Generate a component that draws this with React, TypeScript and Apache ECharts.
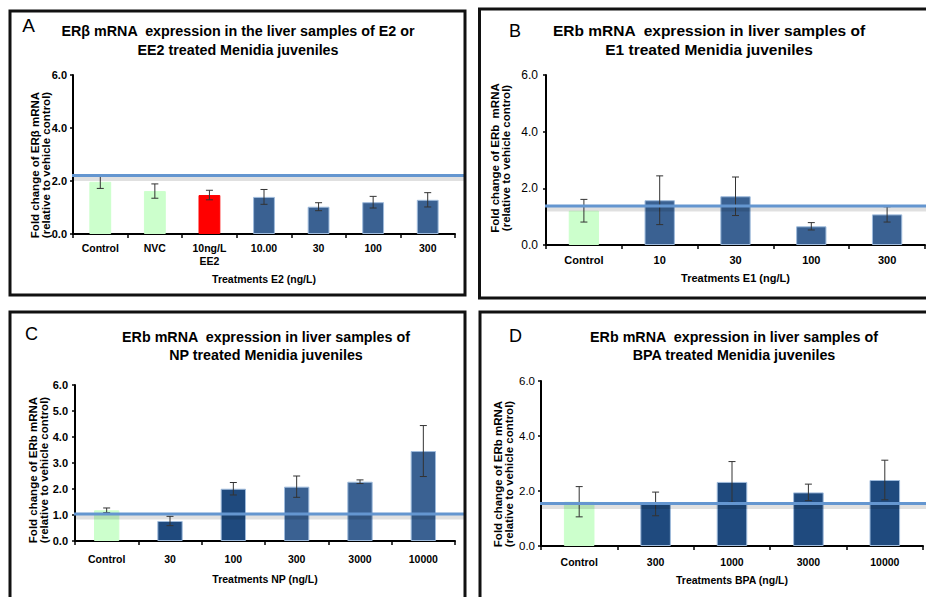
import React, { useEffect, useRef } from 'react';
import * as echarts from 'echarts';

const FONT = '"Liberation Sans", Arial, Helvetica, sans-serif';

// ---- Data ----
const categoriesA = ['Control', 'NVC', '10ng/L\nEE2', '10.00', '30', '100', '300'];
const valuesA = [1.97, 1.62, 1.47, 1.40, 1.03, 1.20, 1.29];
const errorsA = [0.25, 0.27, 0.18, 0.28, 0.15, 0.22, 0.27];
const referenceA = 2.21;

const categoriesB = ['Control', '10', '30', '100', '300'];
const valuesB = [1.21, 1.58, 1.72, 0.66, 1.08];
const errorsB = [0.40, 0.86, 0.68, 0.13, 0.27];
const referenceB = 1.38;

const categoriesC = ['Control', '30', '100', '300', '3000', '10000'];
const valuesC = [1.18, 0.77, 2.01, 2.09, 2.28, 3.46];
const errorsC = [0.09, 0.18, 0.24, 0.41, 0.07, 0.98];
const referenceC = 1.04;

const categoriesD = ['Control', '300', '1000', '3000', '10000'];
const valuesD = [1.61, 1.53, 2.33, 1.95, 2.40];
const errorsD = [0.55, 0.43, 0.74, 0.30, 0.72];
const referenceD = 1.55;

// ---- Styles ----
const GREEN = '#ccffcc';
const RED = '#ff0000';
const BLUE = '#3a6192';
const DARK = '#1f4a7e';
const barColorsA = [GREEN, GREEN, RED, BLUE, BLUE, BLUE, BLUE];
const barColorsB = [GREEN, BLUE, BLUE, BLUE, BLUE];
const barColorsC = [GREEN, DARK, DARK, BLUE, BLUE, BLUE];
const barColorsD = [GREEN, DARK, DARK, DARK, DARK];

const panels = [
  {
    letter: 'A', letterPos: [28.5, 25], letterSize: 19,
    title: ['ERβ mRNA  expression in the liver samples of E2 or', 'EE2 treated Menidia juveniles'],
    titleX: 238, titleY: [31, 50], titleSize: 14.3,
    cats: categoriesA, vals: valuesA, errs: errorsA, ref: referenceA, colors: barColorsA,
    xName: 'Treatments E2 (ng/L)', yName: ['Fold change of ERβ mRNA', '(relative to vehicle control)'],
    yNameX: [35, 46], yNameY: 165, yNameSize: 11.5,
    grid: { left: 73, top: 75, width: 382, height: 159 },
    frame: { x: 10, y: 11, width: 455, height: 284 },
    interval: 2, tickBold: true, tickSize: 11, tickMargin: 6,
    catSize: 10.5, catMargin: 8, nameGap: 39, nameSize: 10.5, lineEnd: 466,
  },
  {
    letter: 'B', letterPos: [515, 31], letterSize: 18,
    title: ['ERb mRNA  expression in liver samples of', 'E1 treated Menidia juveniles'],
    titleX: 709, titleY: [30, 49], titleSize: 15.5,
    cats: categoriesB, vals: valuesB, errs: errorsB, ref: referenceB, colors: barColorsB,
    xName: 'Treatments E1 (ng/L)', yName: ['Fold change of ERb  mRNA', '(relative to vehicle control)'],
    yNameX: [495, 506], yNameY: 158, yNameSize: 11.5,
    grid: { left: 546, top: 75, width: 379, height: 170 },
    frame: { x: 479.5, y: 9, width: 460, height: 289 },
    interval: 2, tickBold: false, tickSize: 12, tickMargin: 8,
    catSize: 11, catMargin: 8, nameGap: 27, nameSize: 11, lineEnd: 926,
  },
  {
    letter: 'C', letterPos: [31.5, 334], letterSize: 18,
    title: ['ERb mRNA  expression in liver samples of', 'NP treated Menidia juveniles'],
    titleX: 266, titleY: [337, 355], titleSize: 14.3,
    cats: categoriesC, vals: valuesC, errs: errorsC, ref: referenceC, colors: barColorsC,
    xName: 'Treatments NP (ng/L)', yName: ['Fold change of ERb mRNA', '(relative to vehicle control)'],
    yNameX: [33, 44], yNameY: 470, yNameSize: 11.5,
    grid: { left: 75, top: 385, width: 380, height: 156 },
    frame: { x: 10, y: 312, width: 455, height: 300 },
    interval: 1, tickBold: true, tickSize: 11, tickMargin: 7,
    catSize: 10.5, catMargin: 12, nameGap: 32, nameSize: 10.5, lineEnd: 466,
  },
  {
    letter: 'D', letterPos: [515.5, 336], letterSize: 18,
    title: ['ERb mRNA  expression in liver samples of', 'BPA treated Menidia juveniles'],
    titleX: 734, titleY: [337, 355], titleSize: 14.3,
    cats: categoriesD, vals: valuesD, errs: errorsD, ref: referenceD, colors: barColorsD,
    xName: 'Treatments BPA (ng/L)', yName: ['Fold change of ERb mRNA', '(relative to vehicle control)'],
    yNameX: [498, 509], yNameY: 474, yNameSize: 11.5,
    grid: { left: 541, top: 381, width: 382, height: 165 },
    frame: { x: 480, y: 312, width: 460, height: 300 },
    interval: 2, tickBold: false, tickSize: 11.5, tickMargin: 6,
    catSize: 10.5, catMargin: 10, nameGap: 28, nameSize: 10.5, lineEnd: 926,
  },
];

function errorRender(params: any, api: any) {
  const x = api.value(0);
  const y = api.value(1);
  const e = api.value(2);
  const top = api.coord([x, y + e]);
  const bot = api.coord([x, y - e]);
  const half = 3.5;
  const style = { stroke: '#333333', lineWidth: 1 };
  return {
    type: 'group',
    children: [
      { type: 'line', shape: { x1: top[0], y1: top[1], x2: bot[0], y2: bot[1] }, style },
      { type: 'line', shape: { x1: top[0] - half, y1: top[1], x2: top[0] + half, y2: top[1] }, style },
      { type: 'line', shape: { x1: bot[0] - half, y1: bot[1], x2: bot[0] + half, y2: bot[1] }, style },
    ],
  };
}

export default function App() {
  const ref = useRef<HTMLDivElement>(null);

  useEffect(() => {
    if (!ref.current) return;
    const chart = echarts.init(ref.current, null, { renderer: 'svg' });

    const grids = panels.map((p) => ({ ...p.grid, containLabel: false }));
    const xAxes = panels.map((p, i) => ({
      type: 'category',
      gridIndex: i,
      data: p.cats,
      axisLine: { lineStyle: { color: '#000', width: 2 } },
      axisTick: { show: true, length: 4, lineStyle: { color: '#000', width: 1.5 } },
      axisLabel: {
        color: '#000', fontFamily: FONT, fontWeight: 'bold', fontSize: p.catSize,
        margin: p.catMargin, interval: 0, lineHeight: p.catSize + 2,
      },
      name: p.xName,
      nameLocation: 'middle',
      nameGap: p.nameGap,
      nameTextStyle: { color: '#000', fontFamily: FONT, fontWeight: 'bold', fontSize: p.nameSize },
    }));
    const yAxes = panels.map((p, i) => ({
      type: 'value',
      gridIndex: i,
      min: 0,
      max: 6,
      interval: p.interval,
      axisLine: { show: true, lineStyle: { color: '#000', width: 2 } },
      axisTick: { show: true, length: 3, lineStyle: { color: '#000', width: 1.5 } },
      splitLine: { show: false },
      axisLabel: {
        color: '#000', fontFamily: FONT, fontWeight: p.tickBold ? 'bold' : 'normal',
        fontSize: p.tickSize, margin: p.tickMargin,
        formatter: (v: number) => v.toFixed(1),
      },
    }));
    const series: any[] = [];
    panels.forEach((p, i) => {
      series.push({
        type: 'bar',
        xAxisIndex: i,
        yAxisIndex: i,
        barWidth: '40%',
        data: p.vals.map((v, j) => ({
          value: v,
          itemStyle: {
            color: p.colors[j],
            borderColor: p.colors[j] === GREEN || p.colors[j] === RED ? p.colors[j] : '#9fbbdc',
            borderWidth: 1,
          },
        })),
        z: 2,
      });
      series.push({
        type: 'custom',
        xAxisIndex: i,
        yAxisIndex: i,
        renderItem: errorRender,
        encode: { x: 0, y: [1] },
        data: p.vals.map((v, j) => [j, v, p.errs[j]]),
        z: 5,
      });
    });

    chart.setOption({
      animation: false,
      backgroundColor: '#ffffff',
      grid: grids,
      xAxis: xAxes,
      yAxis: yAxes,
      series,
    });

    const graphics: any[] = [];
    panels.forEach((p, i) => {
      graphics.push({
        type: 'rect',
        shape: { ...p.frame },
        style: { fill: 'none', stroke: '#111', lineWidth: 3 },
        z: 60,
      });
      graphics.push({
        type: 'text',
        x: p.letterPos[0], y: p.letterPos[1],
        style: {
          text: p.letter, fill: '#000', font: `normal ${p.letterSize}px ${FONT}`,
          textAlign: 'center', textVerticalAlign: 'middle',
        },
        z: 60,
      });
      p.title.forEach((t, k) => {
        graphics.push({
          type: 'text',
          x: p.titleX, y: p.titleY[k],
          style: {
            text: t, fill: '#000', font: `bold ${p.titleSize}px ${FONT}`,
            textAlign: 'center', textVerticalAlign: 'middle',
          },
          z: 60,
        });
      });
      p.yName.forEach((t, k) => {
        graphics.push({
          type: 'text',
          x: p.yNameX[k], y: p.yNameY,
          rotation: Math.PI / 2,
          style: {
            text: t, fill: '#000', font: `bold ${p.yNameSize}px ${FONT}`,
            textAlign: 'center', textVerticalAlign: 'middle',
          },
          z: 60,
        });
      });
      const pt = chart.convertToPixel({ gridIndex: i } as any, [0, p.ref]) as unknown as number[];
      const yPix = Array.isArray(pt) ? pt[1] : Number(pt);
      if (isFinite(yPix)) {
        graphics.push({
          type: 'line',
          shape: { x1: p.grid.left - 1, y1: yPix + 3, x2: p.lineEnd, y2: yPix + 3 },
          style: { stroke: 'rgba(0,0,0,0.12)', lineWidth: 5 },
          z: 49,
        });
        graphics.push({
          type: 'line',
          shape: { x1: p.grid.left - 1, y1: yPix, x2: p.lineEnd, y2: yPix },
          style: { stroke: '#6496d0', lineWidth: 3 },
          z: 50,
        });
      }
    });

    chart.setOption({ graphic: graphics });

    return () => {
      chart.dispose();
    };
  }, []);

  return (
    <div
      ref={ref}
      style={{ position: 'absolute', left: 0, top: 0, width: 926, height: 597, background: '#fff' }}
    />
  );
}
